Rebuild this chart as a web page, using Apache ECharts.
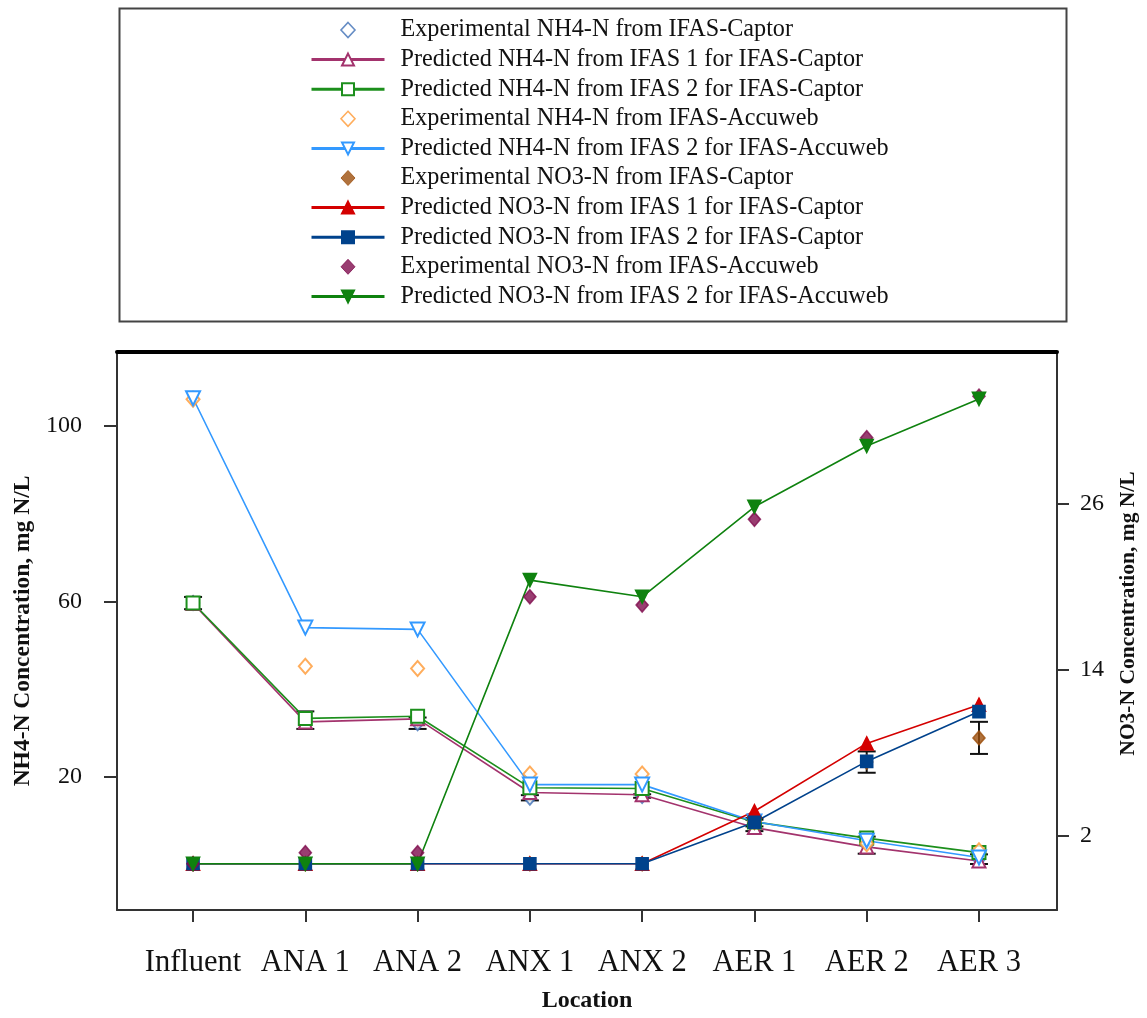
<!DOCTYPE html>
<html>
<head>
<meta charset="utf-8">
<script src="https://cdn.jsdelivr.net/npm/echarts@6/dist/echarts.min.js"></script>
<style>
html,body{margin:0;padding:0;background:#fff;}
#chart{width:1147px;height:1018px;}
</style>
</head>
<body>
<div id="chart"></div>
<script>
// ---- Data ----
const categories = ['Influent', 'ANA 1', 'ANA 2', 'ANX 1', 'ANX 2', 'AER 1', 'AER 2', 'AER 3'];
const nh4TickValues = [20, 60, 100];
const no3TickValues = [2, 14, 26];

// NH4-N (left axis)
const nh4ExpCaptor      = [59.6, 32.9, 32.2, 15.2, 15.6, 8.9, 4.4, 1.2];
const nh4ExpCaptorErr   = [1.4, 2.0, 1.3, 0.6, 0.4, 1.3, 1.95, 1.1];
const nh4PredIfas1Captor = [59.5, 32.5, 33.2, 16.4, 15.9, 8.4, 4.0, 0.8];
const nh4PredIfas2Captor = [59.6, 33.3, 33.8, 17.5, 17.3, 9.7, 6.0, 2.7];
const nh4ExpAccuweb     = [106.1, 45.2, 44.7, 20.6, 20.6, 9.8, 4.7, 3.1];
const nh4PredIfas2Accuweb = [106.3, 54.0, 53.6, 18.2, 18.2, 9.8, 5.4, 1.6];

// NO3-N (right axis)
const no3ExpCaptor      = [0.0, 0.0, 0.0, 0.0, 0.0, 3.0, 7.35, 9.1];
const no3ExpCaptorErr   = [0, 0, 0, 0, 0, 0.3, 0.77, 1.16];
const no3PredIfas1Captor = [0.0, 0.0, 0.0, 0.0, 0.0, 3.8, 8.7, 11.5];
const no3PredIfas2Captor = [0.0, 0.0, 0.0, 0.0, 0.0, 3.0, 7.4, 11.0];
const no3ExpAccuweb     = [0.0, 0.8, 0.8, 19.3, 18.7, 24.9, 30.8, 33.8];
const no3PredIfas2Accuweb = [0.0, 0.0, 0.0, 20.5, 19.3, 25.8, 30.2, 33.6];

// ---- Helpers ----
const pairs = arr => arr.map((v, i) => [i, v]);
const errData = (vals, errs) => vals.map((v, i) => [i, v - errs[i], v + errs[i], errs[i]]).filter(d => d[3] > 0);

function errorBarRender(params, api) {
  const x = api.value(0);
  const lo = api.coord([x, api.value(1)]);
  const hi = api.coord([x, api.value(2)]);
  const hw = 9;
  const style = { stroke: '#111', lineWidth: 2 };
  return {
    type: 'group',
    children: [
      { type: 'line', shape: { x1: lo[0], y1: lo[1], x2: hi[0], y2: hi[1] }, style },
      { type: 'line', shape: { x1: lo[0] - hw, y1: lo[1], x2: lo[0] + hw, y2: lo[1] }, style },
      { type: 'line', shape: { x1: hi[0] - hw, y1: hi[1], x2: hi[0] + hw, y2: hi[1] }, style }
    ]
  };
}

const FONT = 'Liberation Serif, Times New Roman, serif';
const axisColor = '#333';
// legend diamond icon: padded to the legend item box so it is not stretched
const LEGEND_DIAMOND = 'path://M0,0M73,15M36.5,0L43.5,7.5L36.5,15L29.5,7.5Z';

const C = {
  nh4ExpCaptor: '#3f6fb5', nh4P1Captor: '#a3336d', nh4P2Captor: '#1c8f1c',
  nh4ExpAccu: '#ff9933', nh4P2Accu: '#3399ff',
  no3ExpCaptor: '#9c4f0c', no3P1Captor: '#d40000', no3P2Captor: '#00428c',
  no3ExpAccu: '#800d4d', no3P2Accu: '#0f820f'
};

function lineSeries(name, data, color, symbol, yIdx, opts) {
  return Object.assign({
    name, type: 'line', data: pairs(data), yAxisIndex: yIdx,
    symbol, symbolSize: 13, showSymbol: true,
    lineStyle: { color, width: 1.6 },
    itemStyle: { color, borderColor: color, borderWidth: 1.6 },
    z: 3, animation: false
  }, opts || {});
}
function scatterSeries(name, data, color, symbol, yIdx, opts) {
  return Object.assign({
    name, type: 'scatter', data: pairs(data), yAxisIndex: yIdx,
    symbol, symbolSize: 13,
    itemStyle: { color, borderColor: color, borderWidth: 1.6 },
    z: 3, animation: false
  }, opts || {});
}

const option = {
  backgroundColor: '#fff',
  animation: false,
  textStyle: { fontFamily: FONT },
  graphic: [{
    type: 'rect', left: 117, top: 6,
    shape: { width: 947, height: 313 },
    style: { fill: 'none', stroke: '#444', lineWidth: 2 }, z: 0
  }],
  legend: {
    orient: 'vertical', left: 305, top: 13,
    itemWidth: 73, itemHeight: 15, itemGap: 5.6,
    selectedMode: false,
    lineStyle: { width: 3 },
    textStyle: { fontFamily: FONT, fontSize: 24.2, color: '#111', lineHeight: 24, padding: [0, 0, 0, 11] },
    data: [
      { name: 'Experimental NH4-N from IFAS-Captor', icon: LEGEND_DIAMOND,
        itemStyle: { color: '#fff', borderColor: C.nh4ExpCaptor, borderWidth: 1.6 } },
      'Predicted NH4-N from IFAS 1 for IFAS-Captor',
      'Predicted NH4-N from IFAS 2 for IFAS-Captor',
      { name: 'Experimental NH4-N from IFAS-Accuweb', icon: LEGEND_DIAMOND,
        itemStyle: { color: '#fff', borderColor: C.nh4ExpAccu, borderWidth: 1.6 } },
      'Predicted NH4-N from IFAS 2 for IFAS-Accuweb',
      { name: 'Experimental NO3-N from IFAS-Captor', icon: LEGEND_DIAMOND,
        itemStyle: { color: C.no3ExpCaptor, borderColor: C.no3ExpCaptor, borderWidth: 1 } },
      'Predicted NO3-N from IFAS 1 for IFAS-Captor',
      'Predicted NO3-N from IFAS 2 for IFAS-Captor',
      { name: 'Experimental NO3-N from IFAS-Accuweb', icon: LEGEND_DIAMOND,
        itemStyle: { color: C.no3ExpAccu, borderColor: C.no3ExpAccu, borderWidth: 1 } },
      'Predicted NO3-N from IFAS 2 for IFAS-Accuweb'
    ]
  },
  grid: { left: 117, right: 87, top: 352, bottom: 101, containLabel: false },
  xAxis: [{
    type: 'value', min: -0.6774, max: 7.695, position: 'bottom',
    name: 'Location', nameLocation: 'middle', nameGap: 79,
    nameTextStyle: { fontFamily: FONT, fontWeight: 'bold', fontSize: 24, color: '#111' },
    axisLine: { show: true, onZero: false, lineStyle: { color: axisColor, width: 2 } },
    axisTick: { show: true, inside: false, length: 12, lineStyle: { color: axisColor, width: 2 }, customValues: categories.map((c, i) => i) },
    axisLabel: { show: true, margin: 37, fontFamily: FONT, fontSize: 30.5, color: '#111',
      customValues: categories.map((c, i) => i),
      formatter: v => categories[Math.round(v)] },
    splitLine: { show: false }
  }, {
    type: 'value', min: -0.6774, max: 7.695, position: 'top',
    axisLine: { show: true, onZero: false, lineStyle: { color: '#000', width: 4 } },
    axisTick: { show: false }, axisLabel: { show: false }, splitLine: { show: false }
  }],
  yAxis: [{
    type: 'value', min: -10.39, max: 116.85, position: 'left',
    name: 'NH4-N Concentration, mg N/L', nameLocation: 'middle', nameGap: 77, nameRotate: 90,
    nameTextStyle: { fontFamily: FONT, fontWeight: 'bold', fontSize: 23.5, color: '#111' },
    axisLine: { show: true, onZero: false, lineStyle: { color: axisColor, width: 2 } },
    axisTick: { show: true, inside: false, length: 13, lineStyle: { color: axisColor, width: 2 }, customValues: nh4TickValues },
    axisLabel: { show: true, margin: 35, fontFamily: FONT, fontSize: 24, color: '#111', customValues: nh4TickValues },
    splitLine: { show: false }
  }, {
    type: 'value', min: -3.34, max: 36.99, position: 'right',
    name: 'NO3-N Concentration, mg N/L', nameLocation: 'middle', nameGap: 60, nameRotate: 90,
    nameTextStyle: { fontFamily: FONT, fontWeight: 'bold', fontSize: 21.5, color: '#111', padding: [0, 0, 0, 35] },
    axisLine: { show: true, onZero: false, lineStyle: { color: axisColor, width: 2 } },
    axisTick: { show: true, inside: false, length: 12, lineStyle: { color: axisColor, width: 2 }, customValues: no3TickValues },
    axisLabel: { show: true, margin: 23, fontFamily: FONT, fontSize: 24, color: '#111', customValues: no3TickValues },
    splitLine: { show: false }
  }],
  series: [
    { type: 'custom', name: 'nh4err', yAxisIndex: 0, renderItem: errorBarRender, data: errData(nh4ExpCaptor, nh4ExpCaptorErr), z: 2, silent: true },
    { type: 'custom', name: 'no3err', yAxisIndex: 1, renderItem: errorBarRender, data: errData(no3ExpCaptor, no3ExpCaptorErr), z: 2, silent: true },
    scatterSeries('Experimental NH4-N from IFAS-Captor', nh4ExpCaptor, C.nh4ExpCaptor, 'emptyDiamond', 0, { symbolSize: [12, 14] }),
    lineSeries('Predicted NH4-N from IFAS 1 for IFAS-Captor', nh4PredIfas1Captor, C.nh4P1Captor, 'emptyTriangle', 0),
    lineSeries('Predicted NH4-N from IFAS 2 for IFAS-Captor', nh4PredIfas2Captor, C.nh4P2Captor, 'emptyRect', 0),
    scatterSeries('Experimental NH4-N from IFAS-Accuweb', nh4ExpAccuweb, C.nh4ExpAccu, 'emptyDiamond', 0, { symbolSize: [13, 15] }),
    lineSeries('Predicted NH4-N from IFAS 2 for IFAS-Accuweb', nh4PredIfas2Accuweb, C.nh4P2Accu, 'emptyTriangle', 0, { symbolRotate: 180, symbolSize: 14 }),
    scatterSeries('Experimental NO3-N from IFAS-Captor', no3ExpCaptor, C.no3ExpCaptor, 'diamond', 1, { symbolSize: [12, 14] }),
    lineSeries('Predicted NO3-N from IFAS 1 for IFAS-Captor', no3PredIfas1Captor, C.no3P1Captor, 'triangle', 1),
    lineSeries('Predicted NO3-N from IFAS 2 for IFAS-Captor', no3PredIfas2Captor, C.no3P2Captor, 'rect', 1, { symbolSize: 12 }),
    scatterSeries('Experimental NO3-N from IFAS-Accuweb', no3ExpAccuweb, C.no3ExpAccu, 'diamond', 1, { symbolSize: [12, 14] }),
    lineSeries('Predicted NO3-N from IFAS 2 for IFAS-Accuweb', no3PredIfas2Accuweb, C.no3P2Accu, 'triangle', 1, { symbolRotate: 180 })
  ]
};

const chart = echarts.init(document.getElementById('chart'), null, { renderer: 'canvas' });
chart.setOption(option);
</script>
</body>
</html>
